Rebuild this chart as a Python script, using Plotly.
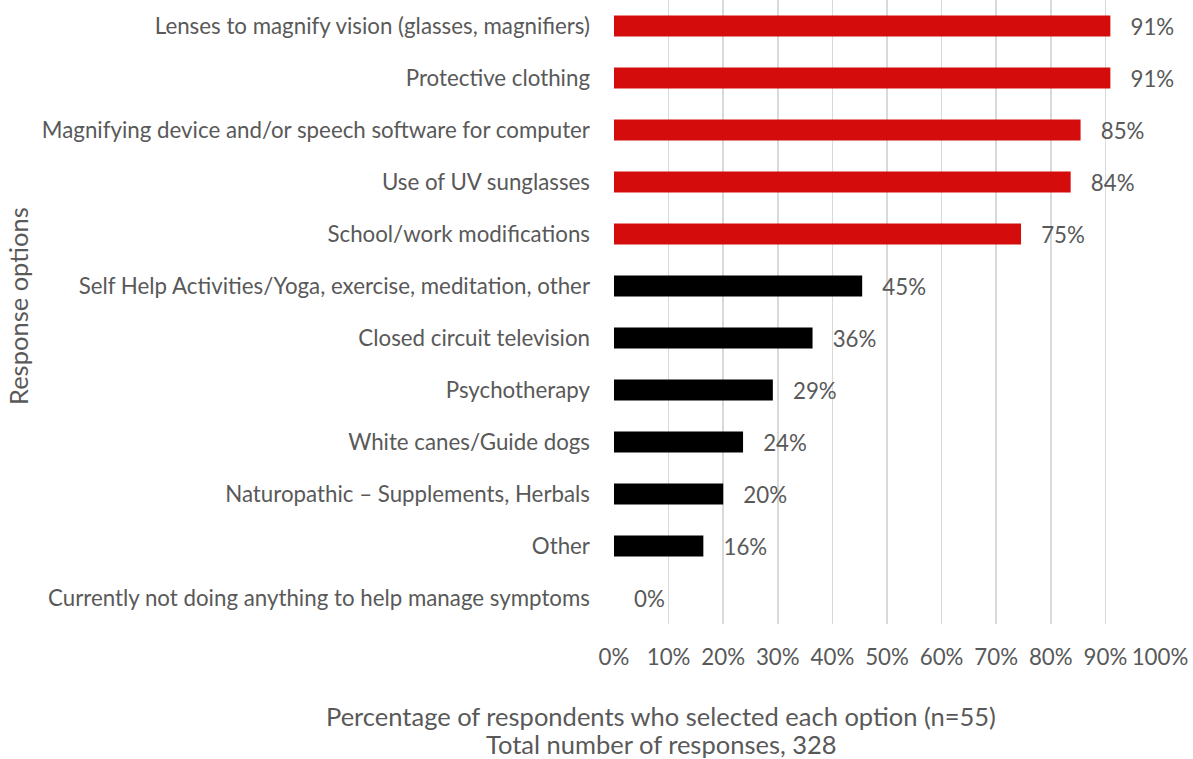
import plotly.graph_objects as go

categories = [
    "Lenses to magnify vision (glasses, magnifiers)",
    "Protective clothing",
    "Magnifying device and/or speech software for computer",
    "Use of UV sunglasses",
    "School/work modifications",
    "Self Help Activities/Yoga, exercise, meditation, other",
    "Closed circuit television",
    "Psychotherapy",
    "White canes/Guide dogs",
    "Naturopathic \u2013 Supplements, Herbals",
    "Other",
    "Currently not doing anything to help manage symptoms",
]
counts = [50, 50, 47, 46, 41, 25, 20, 16, 13, 11, 9, 0]
n_respondents = 55
highlight = [True, True, True, True, True, False, False, False, False, False, False, False]
x_ticks = [0, 0.1, 0.2, 0.3, 0.4, 0.5, 0.6, 0.7, 0.8, 0.9, 1.0]
x_title_lines = ["Percentage of respondents who selected each option (n=55)",
                 "Total number of responses, 328"]
y_title = "Response options"

values = [c / n_respondents for c in counts]
colors = ["#D40C0C" if h else "#000000" for h in highlight]
labels = ["\u00a0\u00a0\u00a0" + f"{v:.0%}" for v in values]

FONT = "Lato"
GRAY = "#595959"
FS = 22.3
TFS = 25.5

PL, PR, PT, PB = 614, 1160, 0, 624
W, H = 1193, 759

fig = go.Figure(go.Bar(
    y=categories,
    x=values,
    orientation="h",
    marker=dict(color=colors, line=dict(width=0)),
    text=labels,
    textposition="outside",
    textfont=dict(family=FONT, size=FS, color=GRAY),
    constraintext="none",
    cliponaxis=False,
    hoverinfo="skip",
))

fig.update_layout(
    width=W, height=H,
    margin=dict(l=PL, r=W - PR, t=PT, b=H - PB, autoexpand=False),
    paper_bgcolor="white", plot_bgcolor="white",
    bargap=0.6,
    showlegend=False,
    font=dict(family=FONT, size=FS, color=GRAY),
    xaxis=dict(
        range=[0, 1.0],
        tickvals=x_ticks,
        tickformat=".0%",
        showgrid=True, gridcolor="#D9D9D9", gridwidth=1.5,
        zeroline=False, showline=False,
        ticks="", ticklabelstandoff=18,
        automargin=False,
        tickfont=dict(family=FONT, size=FS, color=GRAY),
    ),
    yaxis=dict(
        autorange="reversed",
        showgrid=False, zeroline=False, showline=False,
        ticks="", ticklabelstandoff=23,
        automargin=False,
        tickfont=dict(family=FONT, size=FS, color=GRAY),
    ),
    annotations=[
        dict(text=x_title_lines[0],
             xref="paper", yref="paper", x=(661 - PL) / (PR - PL), y=(PB - 716) / (PB - PT),
             xanchor="center", yanchor="middle",
             showarrow=False, font=dict(family=FONT, size=TFS, color=GRAY)),
        dict(text=x_title_lines[1],
             xref="paper", yref="paper", x=(661 - PL) / (PR - PL), y=(PB - 744) / (PB - PT),
             xanchor="center", yanchor="middle",
             showarrow=False, font=dict(family=FONT, size=TFS, color=GRAY)),
        dict(text=y_title, textangle=-90,
             xref="paper", yref="paper", x=(18 - PL) / (PR - PL), y=(PB - 306) / (PB - PT),
             xanchor="center", yanchor="middle",
             showarrow=False, font=dict(family=FONT, size=TFS, color=GRAY)),
    ],
)

fig.write_html(
    "out.html",
    config={"displayModeBar": False, "staticPlot": True},
    post_script="document.body.style.margin='0';document.body.style.overflow='hidden';",
)
